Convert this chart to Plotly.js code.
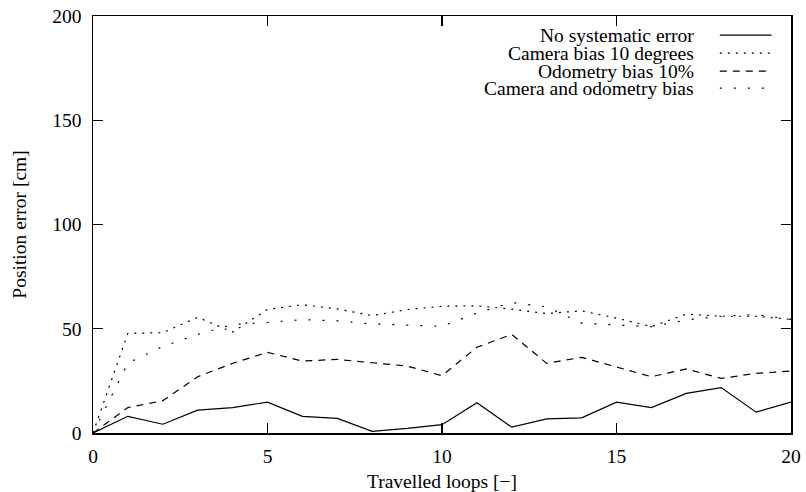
<!DOCTYPE html>
<html>
<head>
<meta charset="utf-8">
<script src="https://cdn.plot.ly/plotly-3.0.1.min.js"></script>
<style>html,body{margin:0;padding:0;background:#fff;}#chart{width:806px;height:492px;}</style>
</head>
<body>
<div id="chart"></div>
<script>
const loops = [0,1,2,3,4,5,6,7,8,9,10,11,12,13,14,15,16,17,18,19,20];
const noSystematic = [0,8,4.2,11,12.2,14.8,8,7,0.8,2.2,4,14.5,2.8,6.8,7.3,14.8,12.2,19,21.8,10,14.8];
const cameraBias = [0,47.8,48.1,55.5,48.4,59.3,61.5,59.5,56.3,59.2,60.8,61,59.4,57.3,58.6,55.1,51,57,56,56,54.5];
const odometryBias = [0,12.2,15.5,27,33.4,38.7,34.5,35.3,33.7,32.1,27.5,41.1,47.3,33.4,36.3,31.8,27,30.7,26.2,28.6,29.7];
const cameraOdometry = [0,33.5,41.5,47.3,52,53,54.4,53.8,52.3,51.6,51.2,57.5,62.6,60.5,52.7,51.8,51,54.2,56,56.8,54.5];
const seriesNames = ["No systematic error","Camera bias 10 degrees","Odometry bias 10%","Camera and odometry bias"];
const seriesValues = [noSystematic, cameraBias, odometryBias, cameraOdometry];
const xTicks = [0,5,10,15,20];
const yTicks = [0,50,100,150,200];

const dashes = ["solid","2px,6px","7px,6px","2px,12px"];
const font = {family: "Liberation Serif, Times New Roman, serif", size: 19.5, color: "#000"};

const traces = seriesValues.map((v, i) => ({
  x: loops, y: v, name: seriesNames[i], type: "scatter", mode: "lines",
  line: {color: "#000", width: 1.2, dash: dashes[i]}, showlegend: false
}));

const annotations = [];
const shapes = [];
const rowY = [0.954, 0.911, 0.868, 0.827];
seriesNames.forEach((n, i) => {
  annotations.push({text: n, xref: "paper", yref: "paper", x: 0.862, y: rowY[i],
    xanchor: "right", yanchor: "middle", showarrow: false, font: font, borderpad: 0});
  shapes.push({type: "line", xref: "paper", yref: "paper", x0: 0.898, x1: 0.972,
    y0: rowY[i], y1: rowY[i], line: {color: "#000", width: 1.2, dash: dashes[i]}});
});

const layout = {
  width: 806, height: 492,
  margin: {l: 92.5, r: 15, t: 15.7, b: 58.7},
  paper_bgcolor: "#fff", plot_bgcolor: "#fff",
  font: font,
  showlegend: false,
  xaxis: {
    range: [0, 20], tickvals: xTicks, ticktext: xTicks.map(String),
    ticks: "inside", ticklen: 10, tickwidth: 1.2, tickcolor: "#000",
    showline: true, linecolor: "#000", linewidth: 1.5, mirror: "ticks",
    showgrid: false, zeroline: false, ticklabelstandoff: 5,
    title: {text: "Travelled loops [\u2212]", font: font, standoff: 10},
    tickfont: font
  },
  yaxis: {
    range: [0, 200], tickvals: yTicks, ticktext: yTicks.map(String),
    ticks: "inside", ticklen: 10, tickwidth: 1.2, tickcolor: "#000",
    showline: true, linecolor: "#000", linewidth: 1.5, mirror: "ticks",
    showgrid: false, zeroline: false, ticklabelstandoff: 6,
    title: {text: "Position error [cm]", font: font, standoff: 20},
    tickfont: font
  },
  annotations: annotations,
  shapes: shapes
};

Plotly.newPlot("chart", traces, layout, {displayModeBar: false, staticPlot: true});
</script>
</body>
</html>
